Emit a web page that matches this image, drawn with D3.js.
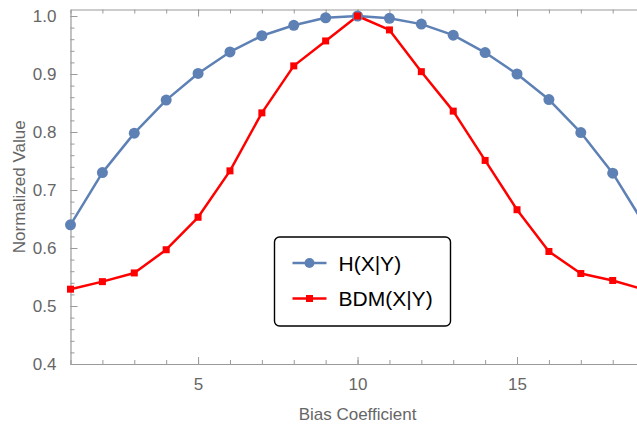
<!DOCTYPE html>
<html>
<head>
<meta charset="utf-8">
<script src="https://cdn.jsdelivr.net/npm/d3@7"></script>
<style>
  html, body { margin: 0; padding: 0; background: #fff; overflow: hidden; }
  svg { display: block; font-family: "Liberation Sans", Arial, sans-serif; }
</style>
</head>
<body>
<svg id="chart" width="637" height="425"></svg>
<script>
// Bias coefficients 1..19
const biasCoefficients = [1, 2, 3, 4, 5, 6, 7, 8, 9, 10, 11, 12, 13, 14, 15, 16, 17, 18, 19];
// Normalized conditional entropy H(X|Y)
const hValues = [0.640, 0.730, 0.798, 0.855, 0.901, 0.938, 0.966, 0.984, 0.997, 1.000,
                 0.996, 0.986, 0.967, 0.937, 0.900, 0.856, 0.799, 0.729, 0.640];
// Normalized BDM(X|Y)
const bdmValues = [0.529, 0.542, 0.557, 0.597, 0.653, 0.733, 0.833, 0.914, 0.957, 1.000,
                   0.976, 0.904, 0.836, 0.751, 0.666, 0.594, 0.556, 0.544, 0.528];
const seriesNames = ["H(X|Y)", "BDM(X|Y)"];
const yTickLabels = [0.4, 0.5, 0.6, 0.7, 0.8, 0.9, 1.0];
const xTickLabels = [5, 10, 15];
const xAxisTitle = "Bias Coefficient";
const yAxisTitle = "Normalized Value";

const svg = d3.select("#chart");
const plotLeft = 70.5, plotRight = 644.6, plotTop = 9.5, plotBottom = 364;
const axisColor = "#9a9a9a", labelColor = "#666666";
const blue = "#5E81B5", red = "#FF0000";

const x = d3.scaleLinear().domain([1, 19]).range([plotLeft, plotRight]);
const y = d3.scaleLinear().domain([0.4, 1.0]).range([plotBottom, plotBottom - 6 * 58]);
const yTop = y.invert(plotTop);

// Frame: bottom, left and top edges with inward ticks
const minorX = d3.range(1, 20);
const minorY = d3.range(0.4, yTop, 0.02).map(v => +v.toFixed(2));

function styleAxis(g) {
  g.select(".domain").attr("stroke", axisColor).attr("stroke-width", 1.2);
  g.selectAll(".tick line").attr("stroke", axisColor).attr("stroke-width", 1);
  g.selectAll(".tick text").attr("fill", labelColor).style("font-size", "17px");
}

// Bottom axis: minor ticks, then major labelled ticks
svg.append("g").attr("transform", `translate(0,${plotBottom})`)
  .call(d3.axisBottom(x).tickValues(minorX).tickSize(-4).tickSizeOuter(0).tickFormat(""))
  .call(styleAxis);
svg.append("g").attr("transform", `translate(0,${plotBottom})`)
  .call(d3.axisBottom(x).tickValues(xTickLabels).tickSize(-7).tickSizeOuter(0).tickPadding(14))
  .call(g => g.select(".domain").remove())
  .call(styleAxis);

// Top frame edge
svg.append("g").attr("transform", `translate(0,${plotTop})`)
  .call(d3.axisTop(x).tickValues(minorX).tickSize(-4).tickSizeOuter(0).tickFormat(""))
  .call(styleAxis);
svg.append("g").attr("transform", `translate(0,${plotTop})`)
  .call(d3.axisTop(x).tickValues(xTickLabels).tickSize(-7).tickSizeOuter(0).tickFormat(""))
  .call(g => g.select(".domain").remove())
  .call(styleAxis);

// Left axis
const yScaleFull = y.copy().domain([0.4, yTop]).range([plotBottom, plotTop]);
svg.append("g").attr("transform", `translate(${plotLeft},0)`)
  .call(d3.axisLeft(yScaleFull).tickValues(minorY).tickSize(-4).tickSizeOuter(0).tickFormat(""))
  .call(styleAxis);
svg.append("g").attr("transform", `translate(${plotLeft},0)`)
  .call(d3.axisLeft(yScaleFull).tickValues(yTickLabels).tickSize(-7).tickSizeOuter(0)
    .tickPadding(14).tickFormat(d3.format(".1f")))
  .call(g => g.select(".domain").remove())
  .call(styleAxis);

// Axis titles
svg.append("text")
  .attr("x", (plotLeft + plotRight) / 2).attr("y", 420)
  .attr("text-anchor", "middle").attr("fill", labelColor)
  .style("font-size", "17px").text(xAxisTitle);
svg.append("text")
  .attr("transform", `translate(24.5,${(plotTop + plotBottom) / 2}) rotate(-90)`)
  .attr("text-anchor", "middle").attr("fill", labelColor)
  .style("font-size", "17px").text(yAxisTitle);

// Series
const line = d3.line().x((d, i) => x(biasCoefficients[i])).y(d => y(d));

svg.append("path").datum(hValues)
  .attr("fill", "none").attr("stroke", blue).attr("stroke-width", 2.5)
  .attr("stroke-linejoin", "round").attr("d", line);
svg.append("path").datum(bdmValues)
  .attr("fill", "none").attr("stroke", red).attr("stroke-width", 2.5)
  .attr("stroke-linejoin", "round").attr("d", line);

svg.append("g").selectAll("circle").data(hValues).join("circle")
  .attr("cx", (d, i) => x(biasCoefficients[i])).attr("cy", d => y(d))
  .attr("r", 5.5).attr("fill", blue);

const sq = 7;
svg.append("g").selectAll("rect").data(bdmValues).join("rect")
  .attr("x", (d, i) => x(biasCoefficients[i]) - sq / 2).attr("y", d => y(d) - sq / 2)
  .attr("width", sq).attr("height", sq).attr("fill", red);

// Legend
const legend = svg.append("g").attr("transform", "translate(274.5,237)");
legend.append("rect")
  .attr("width", 176).attr("height", 89).attr("rx", 5)
  .attr("fill", "#fff").attr("stroke", "#000").attr("stroke-width", 1.4);
const rows = [
  { name: seriesNames[0], color: blue, shape: "circle", dy: 26 },
  { name: seriesNames[1], color: red, shape: "square", dy: 61.5 }
];
rows.forEach(r => {
  const g = legend.append("g").attr("transform", `translate(0,${r.dy})`);
  g.append("line").attr("x1", 18).attr("x2", 52).attr("stroke", r.color).attr("stroke-width", 2.5);
  if (r.shape === "circle") {
    g.append("circle").attr("cx", 35).attr("r", 5).attr("fill", r.color);
  } else {
    g.append("rect").attr("x", 35 - 3.5).attr("y", -3.5).attr("width", 7).attr("height", 7).attr("fill", r.color);
  }
  g.append("text").attr("x", 64).attr("dy", "0.36em")
    .attr("fill", "#000").style("font-size", "21px").text(r.name);
});
</script>
</body>
</html>
